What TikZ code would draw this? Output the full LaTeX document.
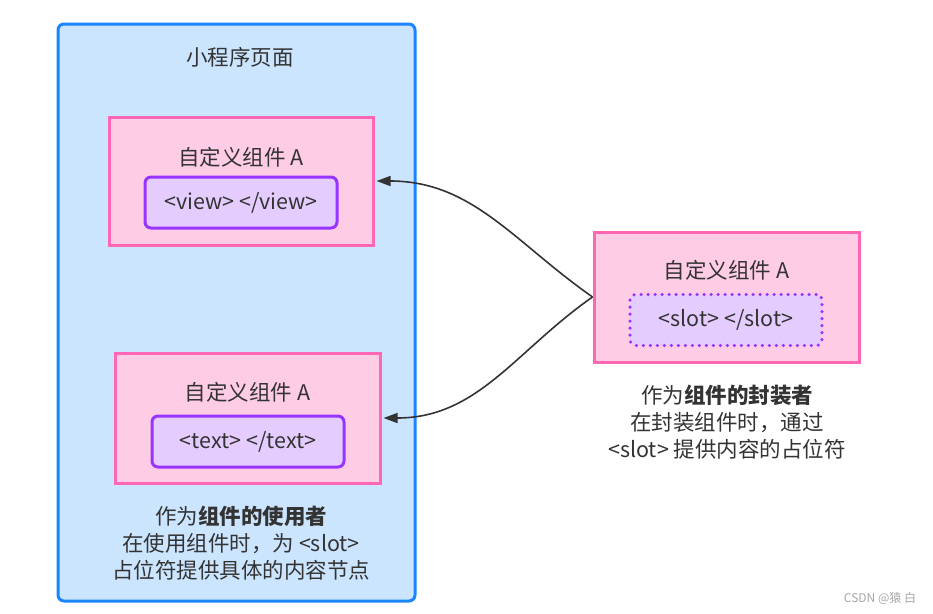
\documentclass[tikz,border=0pt]{standalone}
\usepackage{fontspec}
\setmainfont{Noto Sans CJK SC}
\usetikzlibrary{arrows.meta}

\definecolor{pageFill}{HTML}{CCE5FF}
\definecolor{pageLine}{HTML}{1A85FF}
\definecolor{compFill}{HTML}{FFCCE6}
\definecolor{compLine}{HTML}{FF66B3}
\definecolor{tagFill}{HTML}{E5CCFF}
\definecolor{tagLine}{HTML}{9933FF}
\definecolor{ink}{HTML}{333333}

\begin{document}
\begin{tikzpicture}[
    x=1pt, y=-1pt,
    >={Triangle[length=14pt,width=10pt]},
    every node/.style={text=ink, font=\fontsize{21.5}{27}\selectfont, inner sep=0pt},
    pagebox/.style={draw=pageLine, fill=pageFill, line width=3pt, rounded corners=6pt},
    compbox/.style={draw=compLine, fill=compFill, line width=3pt},
    tagbox/.style={draw=tagLine, fill=tagFill, line width=3pt, rounded corners=6pt,
        minimum width=192pt, minimum height=51pt},
    slotbox/.style={tagbox, line width=3.5pt, dash pattern=on 0pt off 7pt, line cap=round},
    caption/.style={align=center}
]
    % Canvas
    \useasboundingbox (0,0) rectangle (933,613);

    % Mini program page (left)
    \node[pagebox, minimum width=357pt, minimum height=577pt] (page) at (236.5,312.5) {};
    \node (pageTitle) at (240,57) {小程序页面};

    % First component using the slot with <view>
    \node[compbox, minimum width=264pt, minimum height=128pt] (useA) at (241,181) {};
    \node (useATitle) at (241,157) {自定义组件 A};
    \node[tagbox] (viewTag) at (241,202.5) {<view> </view>};

    % Second component using the slot with <text>
    \node[compbox, minimum width=265pt, minimum height=130pt] (useB) at (247.5,418) {};
    \node (useBTitle) at (247.5,392) {自定义组件 A};
    \node[tagbox] (textTag) at (248,441.5) {<text> </text>};

    % Caption of the user side
    \node[caption] (userNote) at (241,543)
        {作为\textbf{组件的使用者}\\在使用组件时，为 <slot>\\占位符提供具体的内容节点};

    % Component definition (right)
    \node[compbox, minimum width=265pt, minimum height=130pt] (defA) at (726.5,297) {};
    \node (defATitle) at (726.5,270) {自定义组件 A};
    \node[slotbox] (slotTag) at (726,320) {<slot> </slot>};

    % Caption of the wrapper side
    \node[caption] (wrapNote) at (727,422)
        {作为\textbf{组件的封装者}\\在封装组件时，通过\\<slot> 提供内容的占位符};

    % Connectors from the definition to both usages
    \draw[->, ink, line width=1.6pt] (defA.west) to[out=145, in=0] ([xshift=2pt]useA.east);
    \draw[->, ink, line width=1.6pt] (defA.west) to[out=-145, in=0] ([xshift=2pt]useB.east);

    % Watermark
    \node[text=gray!70, font=\fontsize{12}{14}\selectfont] (mark) at (880,598) {CSDN @猿 白};
\end{tikzpicture}
\end{document}
